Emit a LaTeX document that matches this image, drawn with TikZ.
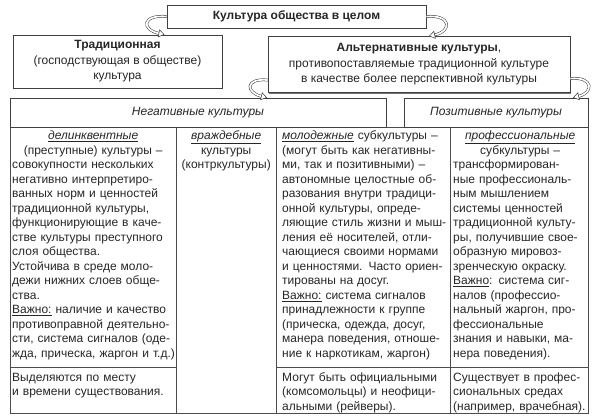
\documentclass[tikz,border=0pt]{standalone}
\usepackage{fontspec}
\setmainfont{Liberation Sans}
\usetikzlibrary{arrows.meta, shadows}
\setlength{\parindent}{0pt}

\begin{document}
\begin{tikzpicture}[
    x=1pt, y=-1pt,
    every node/.style={inner sep=0pt, text=black!85, font=\fontsize{12}{14.5}\selectfont}
]
\tikzset{
    ramka/.style={draw=black!75, fill=white, line width=0.8pt, align=center},
    ten/.style={drop shadow={shadow xshift=1.3pt, shadow yshift=-1.3pt, fill=black!55, opacity=1}},
    setka/.style={draw=black!70, line width=0.7pt},
    strelka/.style={draw=black!80, line width=0.5pt, double=white, double distance=1.7pt,
        -{Triangle[length=6pt, width=8pt, fill=white, line width=0.5pt]}},
    kol/.style={anchor=north west, text width=200pt, align=left}
}
\useasboundingbox (0,0) rectangle (600,420);

% table
\draw[setka] (10,127) rectangle (588,413);
\draw[setka] (176,127) -- (176,413) (276,127) -- (276,413) (450,127) -- (450,413);
\draw[setka] (10,367) -- (176,367) (276,367) -- (588,367);

% boxes
\node[ramka, ten, minimum width=259pt, minimum height=23pt] (kult) at (296.5,16.5)
    {\bfseries Культура общества в целом};
\node[ramka, ten, minimum width=209pt, minimum height=53pt, font=\fontsize{12}{15.5}\selectfont] (trad) at (117.5,61.5)
    {\bfseries Традиционная\\ (господствующая в обществе)\\ культура};
\node[ramka, ten, minimum width=302pt, minimum height=56pt, font=\fontsize{12}{15.5}\selectfont] (alt) at (419,64.5)
    {{\bfseries Альтернативные культуры},\\ противопоставляемые традиционной культуре\\ в качестве более перспективной культуры};
\node[ramka, minimum width=376pt, minimum height=29pt] (neg) at (198,112.5)
    {\itshape Негативные культуры};
\node[ramka, minimum width=184pt, minimum height=29pt] (poz) at (496,112.5)
    {\itshape Позитивные культуры};

% arrows
\draw[strelka] (kult.west) .. controls +(-25,-2) and +(-23,-5) .. ([xshift=47pt]trad.north);
\draw[strelka] (kult.east) .. controls +(25,-2) and +(23,-5) .. ([xshift=10pt]alt.north);
\draw[strelka] ([yshift=-15.5pt]alt.west) .. controls +(-23,-2) and +(-21,-5) .. ([xshift=69pt]neg.north);
\draw[strelka] ([yshift=-14pt]alt.east) .. controls +(23,-2) and +(21,-5) .. ([xshift=77pt]poz.north);

% columns
\node[kol] (delink) at (12,129.4) {\strut\makebox[162pt]{\underline{\textit{делинквентные}}}\\
    \makebox[162pt]{(преступные) культуры –}\\
    совокупности нескольких\\
    негативно интерпретиро-\\
    ванных норм и ценностей\\
    традиционной культуры,\\
    функционирующие в каче-\\
    стве культуры преступного\\
    слоя общества.\\
    Устойчива в среде моло-\\
    дежи нижних слоев обще-\\
    ства.\\
    \underline{Важно:} наличие и качество\\
    противоправной деятельно-\\
    сти, система сигналов (оде-\\
    жда, прическа, жаргон и т.д.)};
\node[kol] (vrazh) at (178,129.4) {\strut\makebox[96pt]{\underline{\textit{враждебные}}}\\
    \makebox[96pt]{культуры}\\
    \makebox[96pt]{(контркультуры)}};
\node[kol] (molod) at (282,129.4) {\strut\underline{\textit{молодежные}} субкультуры –\\
    (могут быть как негативны-\\
    ми, так и позитивными) –\\
    автономные целостные об-\\
    разования внутри традици-\\
    онной культуры, опреде-\\
    ляющие стиль жизни и мыш-\\
    ления её носителей, отли-\\
    чающиеся своими нормами\\
    и ценностями. Часто ориен-\\
    тированы на досуг.\\
    \underline{Важно:} система сигналов\\
    принадлежности к группе\\
    (прическа, одежда, досуг,\\
    манера поведения, отноше-\\
    ние к наркотикам, жаргон)};
\node[kol] (prof) at (453,129.4) {\strut\makebox[134pt]{\underline{\textit{профессиональные}}}\\
    \makebox[134pt]{субкультуры –}\\
    трансформирован-\\
    ные профессиональ-\\
    ным мышлением\\
    системы ценностей\\
    традиционной культу-\\
    ры, получившие свое-\\
    образную мировоз-\\
    зренческую окраску.\\
    \underline{Важно}: система сиг-\\
    налов (профессио-\\
    нальный жаргон, про-\\
    фессиональные\\
    знания и навыки, ма-\\
    нера поведения).};

% bottom row
\node[kol] (delink2) at (12,370.8) {\strut Выделяются по месту\\
    и времени существования.};
\node[kol] (molod2) at (282,370.8) {\strut Могут быть официальными\\
    (комсомольцы) и неофици-\\
    альными (рейверы).};
\node[kol] (prof2) at (453,370.8) {\strut Существует в профес-\\
    сиональных средах\\
    (например, врачебная).};
\end{tikzpicture}
\end{document}
